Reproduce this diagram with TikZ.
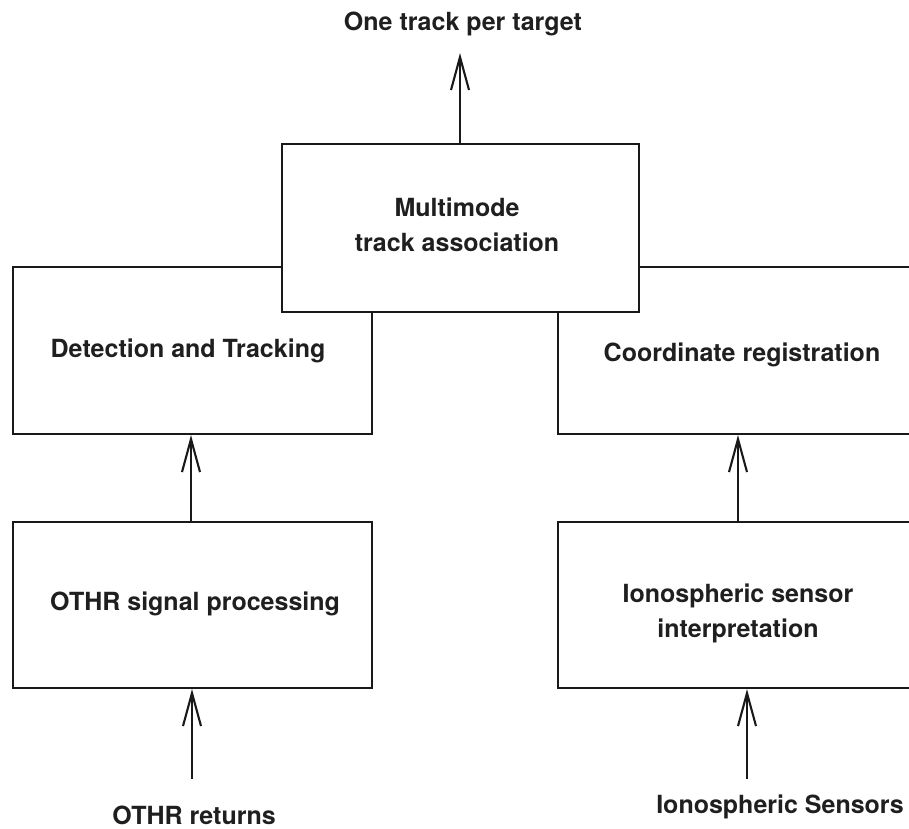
\documentclass[tikz,border=0pt]{standalone}
\usepackage{fontspec}
\setmainfont{TeX Gyre Heros}
\usetikzlibrary{arrows.meta}
\begin{document}
\begin{tikzpicture}[x=1pt,y=-1pt,
  blockbox/.style={draw=black!90, line width=2.1pt, fill=white, inner sep=0pt, anchor=center,
    font=\fontsize{25}{35}\selectfont\bfseries, text=black!88, align=center},
  lbl/.style={font=\fontsize{25}{35}\selectfont\bfseries, text=black!88, inner sep=0pt, anchor=center},
  arr/.style={draw=black!90, line width=2.1pt, -{Straight Barb[length=33pt, width=18pt, line width=2.1pt]}}]
\useasboundingbox (0,0) rectangle (909,828);
\clip (0,0) rectangle (909,828);
% boxes
\node[blockbox, minimum width=359pt, minimum height=167pt] (det) at (192.5,350.5) {};
\node[lbl] (dett) at (188,351) {Detection and Tracking};
\node[blockbox, minimum width=368pt, minimum height=167pt] (coord) at (742,350.5) {};
\node[lbl] (coordt) at (742,355) {Coordinate registration};
\node[blockbox, minimum width=357pt, minimum height=168pt] (mm) at (460.5,228) {};
\node[lbl, align=center] (mmt) at (457,225) {Multimode\\track association};
\node[blockbox, minimum width=359pt, minimum height=166pt] (othr) at (192.5,605) {};
\node[lbl] (othrt) at (195,604) {OTHR signal processing};
\node[blockbox, minimum width=368pt, minimum height=166pt] (iono) at (742,605) {};
\node[lbl, align=center] (ionot) at (738,613) {Ionospheric sensor\\interpretation};
% labels
\node[lbl] (out) at (463,24) {One track per target};
\node[lbl] (inA) at (194,815) {OTHR returns};
\node[lbl] (inB) at (780,807) {Ionospheric Sensors};
% helper coordinates
\coordinate (tipTop) at (460,53);
\coordinate (xR1) at (738,0);
\coordinate (xL1) at (191,0);
\coordinate (srcA) at (192,779);
\coordinate (srcB) at (747,779);
% connectors
\draw[arr] (mm.north -| tipTop) -- (tipTop);
\draw[arr] (othr.north -| xL1) -- (det.south -| xL1);
\draw[arr] (iono.north -| xR1) -- (coord.south -| xR1);
\draw[arr] (srcA) -- (othr.south -| srcA);
\draw[arr] (srcB) -- (iono.south -| srcB);
\end{tikzpicture}
\end{document}
